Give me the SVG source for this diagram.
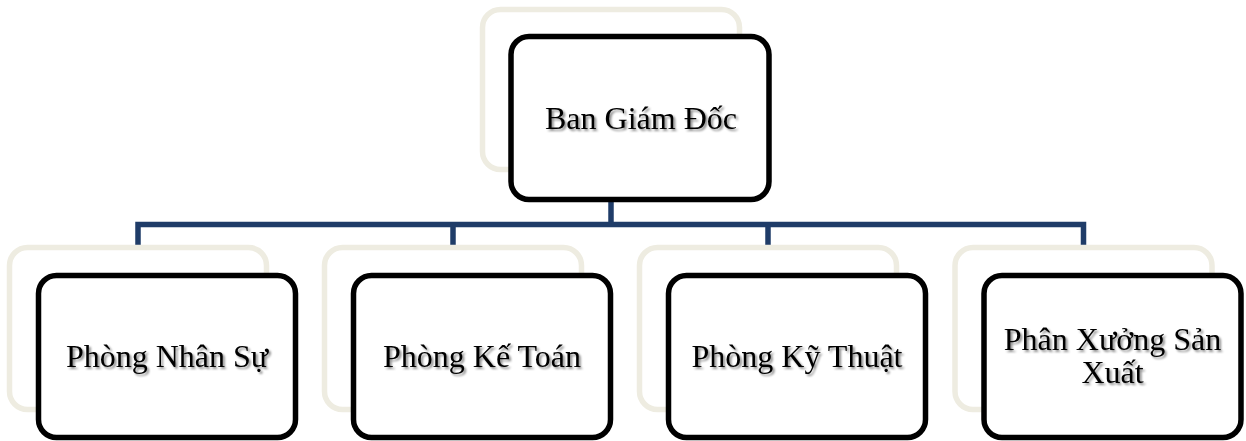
<svg xmlns="http://www.w3.org/2000/svg" width="1246" height="441" viewBox="0 0 1246 441">
  <style>
    .back { fill: #ffffff; stroke: #eeece1; stroke-width: 5.5; }
    .front { fill: #ffffff; stroke: #000000; stroke-width: 5.5; }
    .lbl { font-family: "Liberation Serif", "Times New Roman", serif; font-size: 32px; fill: #000000; text-anchor: middle; filter: url(#shadow); }
    .conn { fill: none; stroke: #1f3c68; stroke-width: 5.5; stroke-linejoin: miter; }
  </style>
  <defs>
    <filter id="shadow" x="-10%" y="-30%" width="120%" height="160%">
      <feDropShadow dx="2" dy="2" stdDeviation="1.2" flood-color="#000000" flood-opacity="0.45"/>
    </filter>
  </defs>
  <rect width="1246" height="441" fill="#ffffff"/>
  <g id="connectors">
    <path class="conn" d="M611 200 V224.5"/>
    <path class="conn" d="M138 248 V224.5 H1083.5 V248"/>
    <path class="conn" d="M453 224.5 V248"/>
    <path class="conn" d="M768 224.5 V248"/>
  </g>
  <g id="node-ban-giam-doc">
    <rect class="back" x="482.5" y="9.5" width="257" height="160" rx="18"/>
    <rect class="front" x="511" y="36.5" width="258" height="163" rx="18"/>
    <text class="lbl" x="641" y="129">Ban Giám Đốc</text>
  </g>
  <g id="node-phong-nhan-su">
    <rect class="back" x="9.5" y="247.5" width="257" height="162" rx="18"/>
    <rect class="front" x="38.5" y="275.5" width="257" height="162" rx="18"/>
    <text class="lbl" x="167" y="367">Phòng Nhân Sự</text>
  </g>
  <g id="node-phong-ke-toan">
    <rect class="back" x="324.5" y="247.5" width="257" height="162" rx="18"/>
    <rect class="front" x="353.5" y="275.5" width="257" height="162" rx="18"/>
    <text class="lbl" x="482" y="367">Phòng Kế Toán</text>
  </g>
  <g id="node-phong-ky-thuat">
    <rect class="back" x="639.5" y="247.5" width="257" height="162" rx="18"/>
    <rect class="front" x="668.5" y="275.5" width="257" height="162" rx="18"/>
    <text class="lbl" x="797" y="367">Phòng Kỹ Thuật</text>
  </g>
  <g id="node-phan-xuong-san-xuat">
    <rect class="back" x="955" y="247.5" width="257" height="162" rx="18"/>
    <rect class="front" x="984" y="275.5" width="257" height="162" rx="18"/>
    <text class="lbl" x="1112.5" y="350">Phân Xưởng Sản</text>
    <text class="lbl" x="1112.5" y="383">Xuất</text>
  </g>
</svg>
